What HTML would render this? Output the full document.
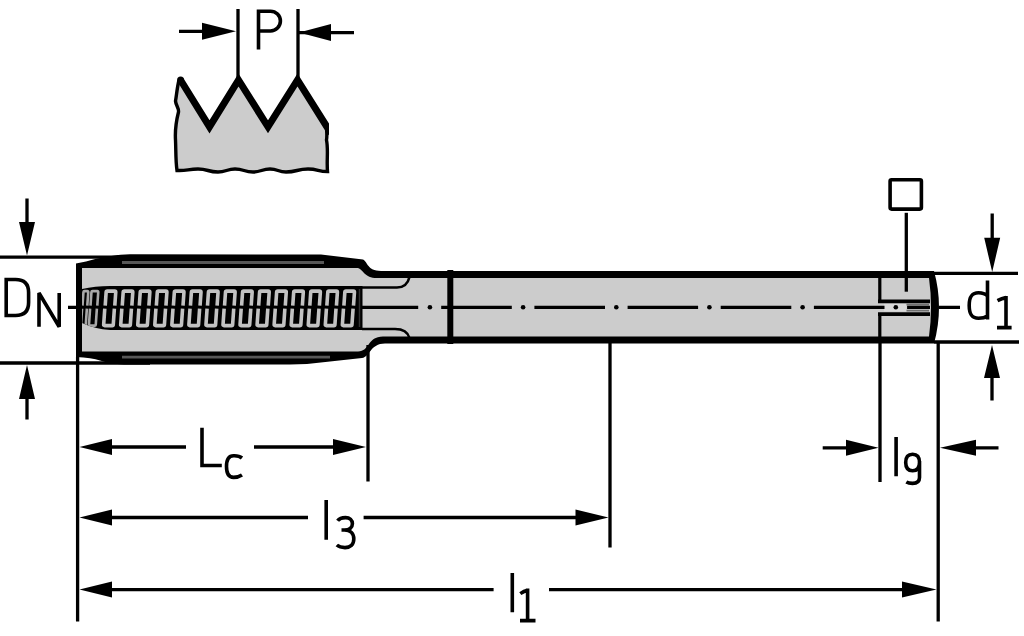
<!DOCTYPE html>
<html><head><meta charset="utf-8"><title>Tap drawing</title>
<style>html,body{margin:0;padding:0;background:#fff;overflow:hidden;font-family:"Liberation Sans",sans-serif;}svg{display:block;}#wrap{width:1024px;height:636px;}</style>
</head><body><div id="wrap">
<svg width="1024" height="636" viewBox="0 0 1024 636">
<rect width="1024" height="636" fill="#fff"/>
<clipPath id="icl"><rect x="150" y="60" width="179" height="80"/></clipPath>
<path d="M179,80 C177,88 176.5,96 175.5,101 C176,106 179,108 178.5,112 C176,122 175,132 175.5,140 C176,150 175.5,160 177,170.5 C187,171 188,169 198,169 C208,169 208,172 218,172 C226,172 227,169 235,169 C244,169 244,172 253,172 C261,172 262,169 270,169 C278,169 278,172 286,172 C297,172 297,169 308,169 C318,169 318,171.5 327.5,171.5 C326.5,160 328.5,150 326.5,140 C327.5,134 326,130 327,126.8 L297.5,80 L268,126.8 L238.5,80 L209.5,126.8 Z" fill="#cccccc"/>
<path d="M179,80 C177,88 176.5,96 175.5,101 C176,106 179,108 178.5,112 C176,122 175,132 175.5,140 C176,150 175.5,160 177,170.5 C187,171 188,169 198,169 C208,169 208,172 218,172 C226,172 227,169 235,169 C244,169 244,172 253,172 C261,172 262,169 270,169 C278,169 278,172 286,172 C297,172 297,169 308,169 C318,169 318,171.5 327.5,171.5 C326.5,160 328.5,150 326.5,140 C327.5,134 326,130 327,126.8" fill="none" stroke="#000" stroke-width="3.4"/>
<path d="M180.5,80 L209.5,126.8 L238.5,80 L268,126.8 L297.5,80 L331,133.3" fill="none" stroke="#000" stroke-width="7" stroke-linejoin="miter" stroke-miterlimit="4" clip-path="url(#icl)"/><circle cx="180.6" cy="80" r="3.5" fill="#000"/>
<path d="M238,9 V80 M298,9 V80" stroke="#000" stroke-width="3.3"/>
<path d="M179,31.3 H210 M299,32.6 H354" stroke="#000" stroke-width="3.3"/>
<path d="M236,31.3 L202,22.8 L202,39.8 Z M299,32.6 L331,24.1 L331,41.1 Z" fill="#000"/>
<path d="M0,257.2 H140 M0,363 H150" stroke="#000" stroke-width="3.3"/>
<path d="M27,198.5 V225 M27,395 V419.5" stroke="#000" stroke-width="3.3"/>
<path d="M27,255.5 L19,222 L35,222 Z M27,365 L19,399 L35,399 Z" fill="#000"/>
<path d="M76,263.5 L86,261.5 Q95,258.5 105,257 Q118,254.5 130,254.3 L321,254.5 L363,259.6 C368,262 367,271 381,271 L934,271 Q944,307 934,343.5 L385,343.5 C370,343.5 370,357 362,358 L330,361.6 Q310,364.5 290,364.5 L124,364.5 Q110,363.5 100,360.5 Q92,357.5 76,357 Z" fill="#000"/>
<path d="M82,268 L358,268 C364,270 364,278 377,278 L929,278 Q933,307 929,336.5 L383,336.5 C367,336.5 370,351.5 358,351.5 L82,351.5 Z" fill="#cccccc"/>
<path d="M122,262.5 H324 M122,357.2 H330" stroke="#575757" stroke-width="2.8"/>
<path d="M82,289 Q95,286 110,286 L362.5,286 L362.5,330 L110,330 Q95,329 82,323 Z" fill="#000"/>
<clipPath id="thr"><path d="M82,289 Q95,286 110,286 L362.5,286 L362.5,330 L110,330 Q95,329 82,323 Z"/></clipPath>
<g clip-path="url(#thr)"><path d="M82.50,305.60 L83.45,292.10 Q83.52,291.10 84.52,291.10 L87.32,291.10 Q88.32,291.10 88.25,292.10 L87.30,305.60 M82.08,308.70 L80.97,324.60 Q80.90,325.60 81.90,325.60 L84.70,325.60 Q85.70,325.60 85.77,324.60 L86.88,308.70" fill="none" stroke="#a8a8a8" stroke-width="2.6"/><path d="M90.50,305.60 L91.45,292.10 Q91.52,291.10 92.52,291.10 L97.32,291.10 Q98.32,291.10 98.25,292.10 L97.30,305.60 M90.08,308.70 L88.97,324.60 Q88.90,325.60 89.90,325.60 L94.70,325.60 Q95.70,325.60 95.77,324.60 L96.88,308.70" fill="none" stroke="#a8a8a8" stroke-width="2.6"/><path d="M105.20,305.60 L106.15,292.10 Q106.22,291.10 107.22,291.10 L114.82,291.10 Q115.82,291.10 115.75,292.10 L114.80,305.60 M104.78,308.70 L103.67,324.60 Q103.60,325.60 104.60,325.60 L112.20,325.60 Q113.20,325.60 113.27,324.60 L114.38,308.70" fill="none" stroke="#c2c2c2" stroke-width="3.6"/><path d="M122.25,305.60 L123.20,292.10 Q123.27,291.10 124.27,291.10 L131.87,291.10 Q132.87,291.10 132.80,292.10 L131.85,305.60 M121.83,308.70 L120.72,324.60 Q120.65,325.60 121.65,325.60 L129.25,325.60 Q130.25,325.60 130.32,324.60 L131.43,308.70" fill="none" stroke="#c2c2c2" stroke-width="3.6"/><path d="M139.30,305.60 L140.25,292.10 Q140.32,291.10 141.32,291.10 L148.92,291.10 Q149.92,291.10 149.85,292.10 L148.90,305.60 M138.88,308.70 L137.77,324.60 Q137.70,325.60 138.70,325.60 L146.30,325.60 Q147.30,325.60 147.37,324.60 L148.48,308.70" fill="none" stroke="#c2c2c2" stroke-width="3.6"/><path d="M156.35,305.60 L157.30,292.10 Q157.37,291.10 158.37,291.10 L165.97,291.10 Q166.97,291.10 166.90,292.10 L165.95,305.60 M155.93,308.70 L154.82,324.60 Q154.75,325.60 155.75,325.60 L163.35,325.60 Q164.35,325.60 164.42,324.60 L165.53,308.70" fill="none" stroke="#c2c2c2" stroke-width="3.6"/><path d="M173.40,305.60 L174.35,292.10 Q174.42,291.10 175.42,291.10 L183.02,291.10 Q184.02,291.10 183.95,292.10 L183.00,305.60 M172.98,308.70 L171.87,324.60 Q171.80,325.60 172.80,325.60 L180.40,325.60 Q181.40,325.60 181.47,324.60 L182.58,308.70" fill="none" stroke="#c2c2c2" stroke-width="3.6"/><path d="M190.45,305.60 L191.40,292.10 Q191.47,291.10 192.47,291.10 L200.07,291.10 Q201.07,291.10 201.00,292.10 L200.05,305.60 M190.03,308.70 L188.92,324.60 Q188.85,325.60 189.85,325.60 L197.45,325.60 Q198.45,325.60 198.52,324.60 L199.63,308.70" fill="none" stroke="#c2c2c2" stroke-width="3.6"/><path d="M207.50,305.60 L208.45,292.10 Q208.52,291.10 209.52,291.10 L217.12,291.10 Q218.12,291.10 218.05,292.10 L217.10,305.60 M207.08,308.70 L205.97,324.60 Q205.90,325.60 206.90,325.60 L214.50,325.60 Q215.50,325.60 215.57,324.60 L216.68,308.70" fill="none" stroke="#c2c2c2" stroke-width="3.6"/><path d="M224.55,305.60 L225.50,292.10 Q225.57,291.10 226.57,291.10 L234.17,291.10 Q235.17,291.10 235.10,292.10 L234.15,305.60 M224.13,308.70 L223.02,324.60 Q222.95,325.60 223.95,325.60 L231.55,325.60 Q232.55,325.60 232.62,324.60 L233.73,308.70" fill="none" stroke="#c2c2c2" stroke-width="3.6"/><path d="M241.60,305.60 L242.55,292.10 Q242.62,291.10 243.62,291.10 L251.22,291.10 Q252.22,291.10 252.15,292.10 L251.20,305.60 M241.18,308.70 L240.07,324.60 Q240.00,325.60 241.00,325.60 L248.60,325.60 Q249.60,325.60 249.67,324.60 L250.78,308.70" fill="none" stroke="#c2c2c2" stroke-width="3.6"/><path d="M258.65,305.60 L259.60,292.10 Q259.67,291.10 260.67,291.10 L268.27,291.10 Q269.27,291.10 269.20,292.10 L268.25,305.60 M258.23,308.70 L257.12,324.60 Q257.05,325.60 258.05,325.60 L265.65,325.60 Q266.65,325.60 266.72,324.60 L267.83,308.70" fill="none" stroke="#c2c2c2" stroke-width="3.6"/><path d="M275.70,305.60 L276.65,292.10 Q276.72,291.10 277.72,291.10 L285.32,291.10 Q286.32,291.10 286.25,292.10 L285.30,305.60 M275.28,308.70 L274.17,324.60 Q274.10,325.60 275.10,325.60 L282.70,325.60 Q283.70,325.60 283.77,324.60 L284.88,308.70" fill="none" stroke="#c2c2c2" stroke-width="3.6"/><path d="M292.75,305.60 L293.70,292.10 Q293.77,291.10 294.77,291.10 L302.37,291.10 Q303.37,291.10 303.30,292.10 L302.35,305.60 M292.33,308.70 L291.22,324.60 Q291.15,325.60 292.15,325.60 L299.75,325.60 Q300.75,325.60 300.82,324.60 L301.93,308.70" fill="none" stroke="#c2c2c2" stroke-width="3.6"/><path d="M309.80,305.60 L310.75,292.10 Q310.82,291.10 311.82,291.10 L319.42,291.10 Q320.42,291.10 320.35,292.10 L319.40,305.60 M309.38,308.70 L308.27,324.60 Q308.20,325.60 309.20,325.60 L316.80,325.60 Q317.80,325.60 317.87,324.60 L318.98,308.70" fill="none" stroke="#c2c2c2" stroke-width="3.6"/><path d="M326.85,305.60 L327.80,292.10 Q327.87,291.10 328.87,291.10 L336.47,291.10 Q337.47,291.10 337.40,292.10 L336.45,305.60 M326.43,308.70 L325.32,324.60 Q325.25,325.60 326.25,325.60 L333.85,325.60 Q334.85,325.60 334.92,324.60 L336.03,308.70" fill="none" stroke="#c2c2c2" stroke-width="3.6"/><path d="M343.90,305.60 L344.85,292.10 Q344.92,291.10 345.92,291.10 L353.52,291.10 Q354.52,291.10 354.45,292.10 L353.50,305.60 M343.48,308.70 L342.37,324.60 Q342.30,325.60 343.30,325.60 L350.90,325.60 Q351.90,325.60 351.97,324.60 L353.08,308.70" fill="none" stroke="#c2c2c2" stroke-width="3.6"/></g>
<path d="M359.5,289 V327" stroke="#333" stroke-width="1.5"/>
<path d="M362,287.5 H397 Q407,287.5 409.5,277 M362,329 H395 Q407,329 409.5,338" fill="none" stroke="#000" stroke-width="2.6"/>
<path d="M450.3,270 V344" stroke="#000" stroke-width="6"/>
<rect x="877" y="303.2" width="52.5" height="9.1" fill="#cccccc"/>
<rect x="884" y="303.8" width="22.5" height="7.4" fill="#d9d9d9"/>
<path d="M906.5,304.6 H929 M906.5,310.6 H929" stroke="#707070" stroke-width="1.6"/>
<path d="M879.8,271 V302 M879.8,313 V343" stroke="#000" stroke-width="3.2"/>
<path d="M878,301.3 H930 M878,314.2 H930" stroke="#000" stroke-width="3.8"/>
<path d="M68,307.3 H76 M362,307.3 H418.2 M441.2,307.3 H511.8 M534.4,307.3 H605.0 M627.6,307.3 H698.1 M720.7,307.3 H791.3 M813.9,307.3 H884.5 M907.1,307.3 H930.0 M939,307.3 H960" stroke="#000" stroke-width="3.3"/>
<circle cx="429.9" cy="307.3" r="2.3" fill="#000"/><circle cx="523.1" cy="307.3" r="2.3" fill="#000"/><circle cx="616.3" cy="307.3" r="2.3" fill="#000"/><circle cx="709.4" cy="307.3" r="2.3" fill="#000"/><circle cx="802.6" cy="307.3" r="2.3" fill="#000"/><circle cx="895.8" cy="307.3" r="2.3" fill="#000"/>
<rect x="890.1" y="179.7" width="31.3" height="29.4" rx="1.5" fill="none" stroke="#000" stroke-width="3.6"/>
<path d="M906.3,212.8 V291.7" stroke="#000" stroke-width="3.3"/>
<path d="M934,273.4 H1018 M934,342 H1019" stroke="#000" stroke-width="3.3"/>
<path d="M992.2,213.5 V240 M992,375 V400.5" stroke="#000" stroke-width="3.3"/>
<path d="M992.2,272 L984.2,237.8 L1000.2,237.8 Z M992,345 L984,378 L1000,378 Z" fill="#000"/>
<path d="M77.6,357 V621.6 M368,345 V481.5 M610,343 V547.4 M938.2,343 V621.6 M880,343 V482" stroke="#000" stroke-width="3.3"/>
<path d="M100,447 H186 M254,447 H345 M100,517.5 H308 M363.6,517.5 H590 M100,589.6 H493.6 M549,589.6 H915 M822.7,447.8 H860 M960,447.8 H998.5" stroke="#000" stroke-width="3.3"/>
<path d="M79.5,447 L112,439 L112,455 Z M79.5,517.5 L112,509.5 L112,525.5 Z M79.5,589.6 L112,581.6 L112,597.6 Z M366,447 L333,439 L333,455 Z M608.5,517.5 L575.5,509.5 L575.5,525.5 Z M936.5,589.6 L902,581.6 L902,597.6 Z M878.5,447.8 L846,439.8 L846,455.8 Z M940,447.8 L976,439.8 L976,455.8 Z" fill="#000"/>
<path d="M258.5,9.4 V49.5 M258.5,11.2 H270.5 A9.9,9.9 0 0 1 270.5,31 H258.5 M6.2,277.7 V317.3 M6.2,279.5 H15.5 C25,279.5 28.6,284.5 28.6,292.5 V302.5 C28.6,310.5 25,315.5 15.5,315.5 H6.2 M39,326.7 V293 L59.2,326.7 V293 M202,427.7 V465.5 H221.8 M242,458 C239,455.5 236,455.8 233.5,455.8 C228,455.8 226.5,460 226.5,466.6 C226.5,473 228,477.4 233.5,477.4 C236,477.4 239,477 242,475 M326.2,500 V539.7 M337.6,520.8 C339.5,518.2 342.5,517.6 345.5,517.6 C349.8,517.6 352.4,520.2 352.4,523.8 C352.4,527.6 349.5,530 344.5,530 H341.5 M344.5,530 C350.5,530 353.8,533.8 353.8,539 C353.8,544.6 350.2,547.6 345,547.6 C341.5,547.6 338.8,546.8 336.8,545 M512.3,573 V612.3 M527.6,588.5 V620.5 M527.6,590.2 Q524,591 520.3,593.6 M520,620.6 H535.5 M896.1,437 V476.2 M919.5,462.5 C919.5,457 917,454.3 912.6,454.3 C908.2,454.3 905.7,457 905.7,462.5 C905.7,468 908.2,470.7 912.6,470.7 C917,470.7 919.5,468 919.5,462.5 Z M919.5,461 V477.5 C919.5,482 917,483.4 912.5,483.4 C910,483.4 908,483 906.3,482 M987.5,280.5 V319.5 M987.5,296 C984.5,293 981.5,292.8 978.5,292.8 C971,292.8 969.2,298 969.2,305.5 C969.2,313 971,318.2 978.5,318.2 C981.5,318.2 984.5,318 987.5,316 M1006,295.9 V327.5 M1006,297.6 Q1001.8,298.3 997.5,300.6 M997,327.6 H1011.6" fill="none" stroke="#000" stroke-width="3.6" stroke-linejoin="miter" stroke-miterlimit="2.5"/>
</svg></div>
</body></html>
